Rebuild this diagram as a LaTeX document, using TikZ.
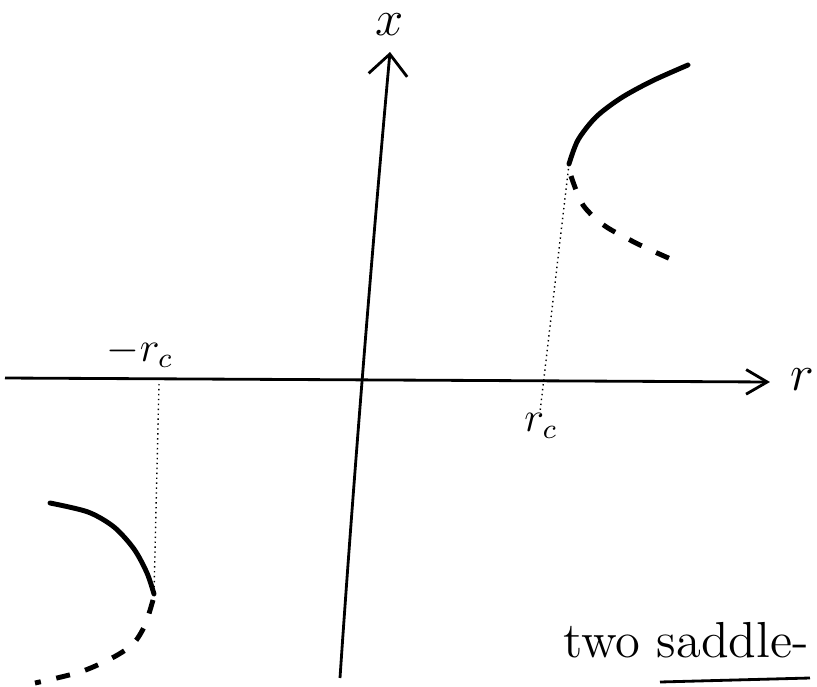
\documentclass[tikz,border=0pt]{standalone}
\usepackage{amsmath}
\usetikzlibrary{arrows.meta}

\begin{document}
\begin{tikzpicture}[x=0.01cm, y=-0.01cm, thick]
  \useasboundingbox (0,0) rectangle (817,687);

  \coordinate (O1) at (5,378);
  \coordinate (R)  at (770,382);
  \coordinate (O2) at (340,678);
  \coordinate (X)  at (390,52);

  % 平衡点
  \coordinate (S)  at (569,164);
  \coordinate (SL) at (154,594);
  \coordinate (P)  at (540,412);
  \coordinate (M)  at (159,384);

  % 坐标轴
  \draw[-{Straight Barb[length=6pt,width=7pt]}] (O1) -- (R);
  \draw[-{Straight Barb[length=6pt,width=11pt]}] (O2) .. controls (352,500) and (372,250) .. (X);

  % 辅助虚线
  \draw[densely dotted, thin] (S) -- (P);
  \draw[densely dotted, thin] (M) -- (SL);

  % 稳定分支
  \draw[line width=1.4pt, line cap=round] plot[smooth] coordinates
    {(S) (578,140) (596,117) (621,98) (652,81) (688,65)};
  \draw[line width=1.4pt, line cap=round] plot[smooth] coordinates
    {(50,503) (88,512) (114,527) (134,549) (147,573) (SL)};

  % 不稳定分支
  \draw[line width=1.4pt, dash pattern=on 4pt off 4.5pt] plot[smooth] coordinates
    {(571,176) (583,205) (605,226) (640,245) (673,260)};
  \draw[line width=1.4pt, dash pattern=on 4pt off 4.5pt] plot[smooth] coordinates
    {(153,600) (145,625) (133,644) (112,658) (80,672) (35,683)};

  \node[inner sep=0pt] (xlab) at (390,25)  {\Large $x$};
  \node (rlab)  at (802,380) {\Large $r$};
  \node (rc)    at (541,426) {\large $r_c$};
  \node (mrc)   at (140,352) {\large $-r_c$};
  \node (note)  at (686,640) {\Large two saddle-};
  \draw (660,682) -- (810,678);
\end{tikzpicture}
\end{document}
